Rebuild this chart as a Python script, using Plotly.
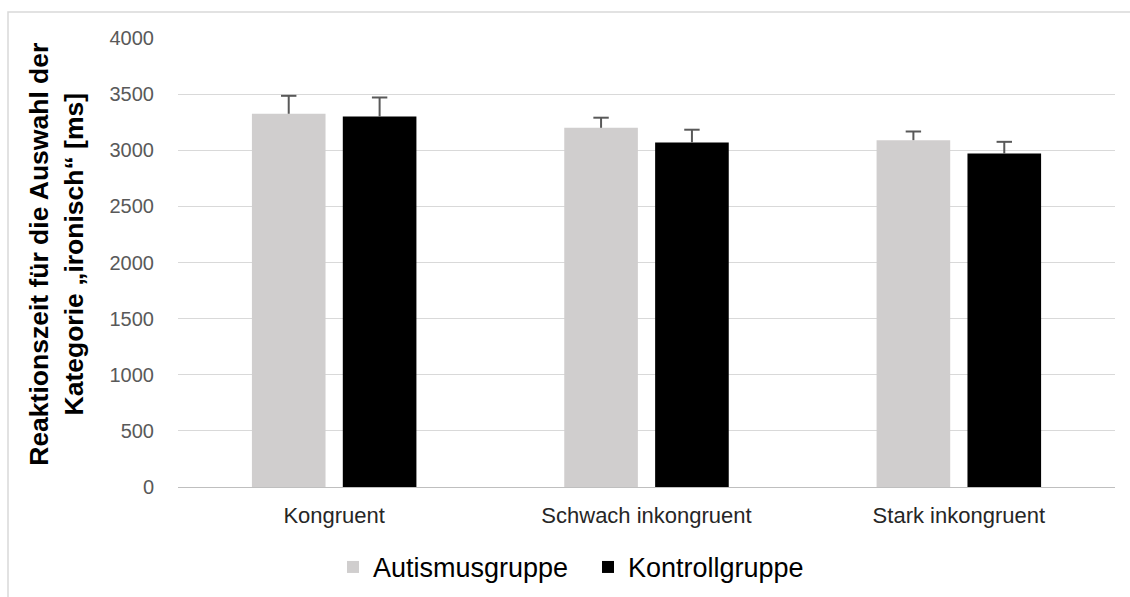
import plotly.graph_objects as go

# Reaction times (ms) for choosing the category "ironisch"
categories = ["Kongruent", "Schwach inkongruent", "Stark inkongruent"]
autismus_mean = [3325, 3200, 3090]
autismus_err = [160, 90, 77]
kontroll_mean = [3300, 3070, 2970]
kontroll_err = [170, 113, 105]
y_ticks = [0, 500, 1000, 1500, 2000, 2500, 3000, 3500, 4000]

FONT = "Liberation Sans, Arial, sans-serif"
ERR_COLOR = "#595959"
BAR_GAP = 0.418
GROUP_GAP = 0.19

groups = [
    ("Autismusgruppe", autismus_mean, autismus_err, "#d0cece"),
    ("Kontrollgruppe", kontroll_mean, kontroll_err, "#000000"),
]

fig = go.Figure()
for name, mean, err, color in groups:
    fig.add_trace(go.Bar(
        name=name, x=categories, y=mean, offsetgroup=name,
        marker=dict(color=color, line=dict(width=0)),
    ))

# Positive-only error bars: a stem from the bar top up to mean + error,
# capped by a horizontal tick marker
for name, mean, err, color in groups:
    top = [m + e for m, e in zip(mean, err)]
    fig.add_trace(go.Scatter(
        x=categories, y=top, offsetgroup=name, mode="markers",
        showlegend=False, hoverinfo="skip",
        marker=dict(symbol="line-ew", size=11, color=ERR_COLOR,
                    line=dict(color=ERR_COLOR, width=2)),
        error_y=dict(type="data", array=[0] * len(err), arrayminus=err,
                     symmetric=False, color=ERR_COLOR, thickness=2, width=0),
    ))

L, R, T, B = 178, 15, 38, 109.5
W, H = 1130, 597
plot_w = W - L - R
plot_h = H - T - B


def px_x(px):
    return (px - L) / plot_w


def px_y(py):
    return (H - B - py) / plot_h


fig.update_layout(
    width=W, height=H,
    margin=dict(l=L, r=R, t=T, b=B, autoexpand=False),
    paper_bgcolor="white", plot_bgcolor="white",
    font=dict(family=FONT, color="#000000"),
    barmode="group", bargap=BAR_GAP, bargroupgap=GROUP_GAP,
    scattermode="group", scattergap=BAR_GAP,
    showlegend=True,
    legend=dict(orientation="h", x=px_x(333), xanchor="left", y=px_y(568), yanchor="middle",
                font=dict(size=27, color="#000000"),
                entrywidth=210, entrywidthmode="pixels",
                traceorder="normal", bgcolor="rgba(0,0,0,0)"),
    xaxis=dict(
        showgrid=False, showline=True, linecolor="#bfbfbf", linewidth=1,
        ticks="outside", ticklen=9, tickcolor="rgba(0,0,0,0)",
        tickfont=dict(size=22, color="#262626", family=FONT),
    ),
    yaxis=dict(
        range=[0, 4000], tickvals=y_ticks, ticktext=[str(v) for v in y_ticks],
        showgrid=True, gridcolor="#d9d9d9", gridwidth=1,
        zeroline=False, showline=False,
        ticks="outside", ticklen=19, tickcolor="rgba(0,0,0,0)",
        tickfont=dict(size=20, color="#595959", family=FONT),
    ),
    shapes=[dict(
        type="rect", xref="paper", yref="paper",
        x0=px_x(8), x1=px_x(1140), y0=px_y(610), y1=px_y(12),
        line=dict(color="#d9d9d9", width=1.5), fillcolor="rgba(0,0,0,0)", layer="below",
    )],
    annotations=[dict(
        xref="paper", yref="paper", x=px_x(56), y=px_y(255),
        xanchor="center", yanchor="middle", textangle=-90, showarrow=False,
        text="<b>Reaktionszeit für die Auswahl der<br>Kategorie „ironisch“ [ms]</b>",
        font=dict(size=26.5, color="#000000", family=FONT),
    )],
)

fig.write_html("out.html")
